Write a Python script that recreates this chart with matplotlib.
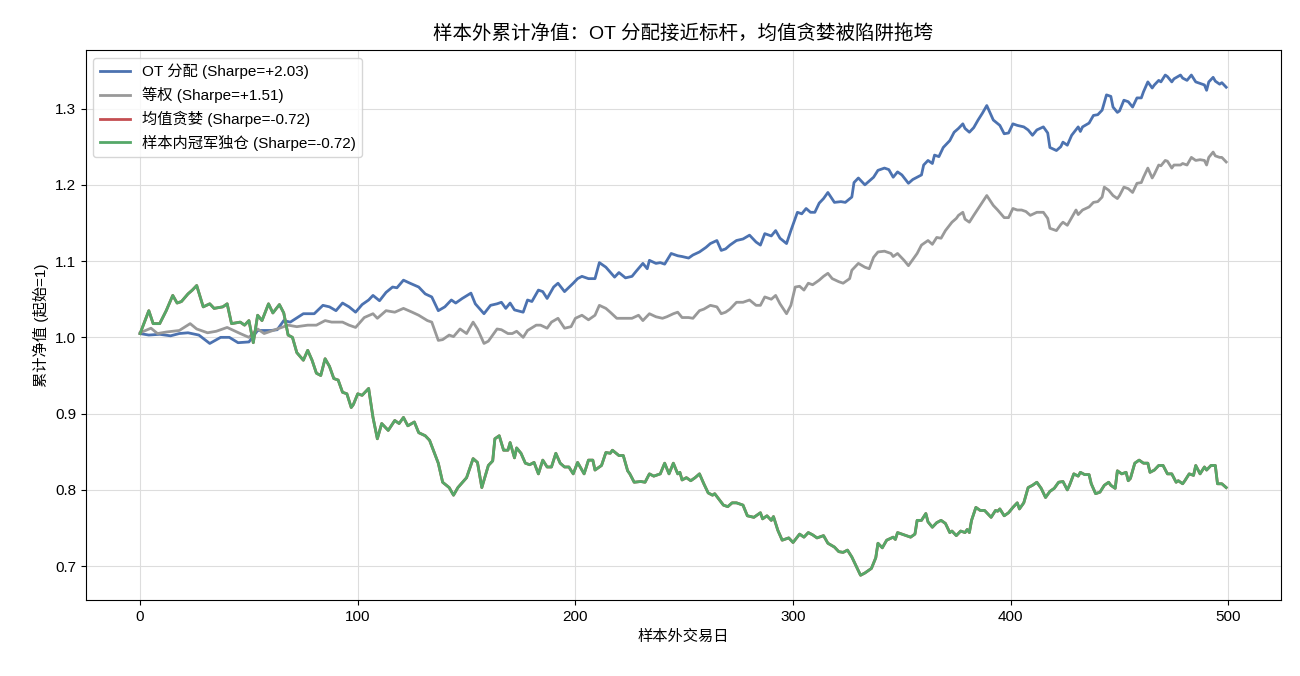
import matplotlib
matplotlib.use("Agg")
import matplotlib.pyplot as plt

plt.rcParams["font.family"] = ["Liberation Sans", "Noto Sans CJK SC", "DejaVu Sans"]
plt.rcParams["axes.unicode_minus"] = False

# values (trading day -> cumulative NAV)
ot_days = [0, 4, 9, 14, 18, 22, 27, 32, 37, 41, 45, 50, 54, 60, 63, 66, 69, 75, 80, 84,
           87, 90, 93, 96, 99, 102, 105, 107, 110, 113, 116, 118, 121, 124, 128, 131, 134, 137, 140, 143,
           145, 148, 152, 154, 158, 161, 164, 166, 168, 170, 172, 176, 178, 180, 183, 185, 187, 190, 192, 195,
           199, 201, 203, 206, 209, 211, 214, 218, 220, 223, 226, 228, 231, 233, 234, 237, 239, 241, 244, 247,
           249, 252, 254, 257, 260, 262, 265, 267, 269, 271, 274, 277, 280, 283, 285, 287, 290, 292, 294, 297,
           299, 302, 304, 306, 308, 310, 312, 314, 316, 319, 322, 324, 327, 328, 330, 333, 335, 337, 339, 342,
           344, 346, 348, 350, 353, 355, 357, 359, 360, 362, 364, 365, 367, 369, 372, 374, 376, 378, 379, 381,
           383, 385, 387, 389, 392, 395, 397, 399, 401, 403, 406, 408, 410, 412, 415, 417, 418, 421, 423, 424,
           426, 428, 431, 432, 433, 436, 438, 440, 442, 444, 446, 447, 449, 450, 452, 454, 456, 458, 460, 461,
           463, 465, 466, 468, 469, 471, 472, 474, 475, 478, 479, 481, 483, 485, 487, 489, 490, 491, 493, 494,
           496, 497, 499]
ot_nav = [1.005, 1.003, 1.004, 1.002, 1.005, 1.006, 1.003, 0.992, 1.000, 1.000, 0.993, 0.994, 1.009, 1.009, 1.010, 1.022, 1.020, 1.031, 1.031, 1.042,
          1.040, 1.035, 1.045, 1.040, 1.033, 1.043, 1.049, 1.055, 1.048, 1.059, 1.066, 1.065, 1.075, 1.071, 1.066, 1.057, 1.053, 1.035, 1.040, 1.049,
          1.045, 1.051, 1.058, 1.044, 1.031, 1.042, 1.044, 1.046, 1.038, 1.045, 1.036, 1.033, 1.049, 1.047, 1.062, 1.060, 1.051, 1.066, 1.071, 1.060,
          1.071, 1.077, 1.080, 1.077, 1.077, 1.098, 1.092, 1.079, 1.085, 1.078, 1.080, 1.087, 1.097, 1.090, 1.101, 1.097, 1.098, 1.096, 1.110, 1.107,
          1.106, 1.104, 1.108, 1.112, 1.118, 1.123, 1.127, 1.114, 1.116, 1.121, 1.127, 1.129, 1.134, 1.125, 1.121, 1.136, 1.133, 1.140, 1.130, 1.123,
          1.140, 1.164, 1.162, 1.169, 1.164, 1.164, 1.176, 1.182, 1.190, 1.177, 1.178, 1.177, 1.184, 1.203, 1.209, 1.200, 1.205, 1.210, 1.219, 1.222,
          1.220, 1.210, 1.217, 1.213, 1.202, 1.207, 1.210, 1.213, 1.226, 1.232, 1.228, 1.239, 1.237, 1.249, 1.258, 1.269, 1.274, 1.280, 1.274, 1.269,
          1.275, 1.285, 1.294, 1.304, 1.285, 1.278, 1.267, 1.268, 1.280, 1.278, 1.276, 1.272, 1.265, 1.272, 1.276, 1.268, 1.249, 1.245, 1.250, 1.256,
          1.252, 1.265, 1.276, 1.270, 1.276, 1.281, 1.291, 1.292, 1.298, 1.318, 1.316, 1.302, 1.295, 1.297, 1.311, 1.309, 1.302, 1.314, 1.314, 1.322,
          1.335, 1.327, 1.331, 1.337, 1.335, 1.344, 1.342, 1.335, 1.339, 1.344, 1.340, 1.337, 1.344, 1.335, 1.333, 1.331, 1.324, 1.335, 1.341, 1.336,
          1.332, 1.334, 1.328]

eq_days = [0, 5, 8, 12, 18, 23, 26, 31, 35, 40, 46, 50, 54, 57, 60, 63, 68, 72, 77, 81,
           85, 88, 93, 96, 99, 103, 107, 109, 113, 117, 121, 125, 128, 132, 134, 137, 139, 142, 144, 147,
           150, 153, 155, 158, 160, 164, 166, 169, 171, 173, 176, 178, 182, 184, 187, 189, 192, 195, 198, 200,
           203, 206, 209, 211, 214, 216, 219, 222, 226, 229, 231, 234, 237, 240, 242, 245, 247, 249, 252, 254,
           257, 259, 262, 265, 267, 269, 271, 274, 277, 280, 283, 285, 287, 290, 292, 294, 297, 299, 301, 303,
           305, 307, 309, 312, 314, 316, 318, 321, 323, 326, 327, 330, 333, 335, 337, 339, 342, 345, 346, 348,
           351, 353, 355, 357, 359, 362, 364, 366, 368, 370, 373, 375, 376, 378, 379, 381, 383, 386, 389, 392,
           394, 397, 399, 401, 403, 405, 407, 409, 412, 415, 417, 418, 421, 423, 424, 426, 428, 430, 431, 433,
           436, 438, 440, 442, 443, 445, 447, 449, 450, 452, 454, 456, 458, 460, 461, 463, 465, 466, 468, 469,
           471, 472, 474, 475, 478, 479, 481, 483, 485, 487, 489, 490, 491, 493, 494, 496, 497, 499]
eq_nav = [1.006, 1.012, 1.005, 1.007, 1.009, 1.018, 1.011, 1.006, 1.008, 1.013, 1.005, 1.000, 1.011, 1.005, 1.008, 1.011, 1.016, 1.014, 1.016, 1.016,
          1.022, 1.020, 1.020, 1.016, 1.013, 1.026, 1.031, 1.025, 1.035, 1.033, 1.038, 1.033, 1.029, 1.022, 1.020, 0.996, 0.997, 1.003, 1.001, 1.011,
          1.005, 1.020, 1.011, 0.992, 0.995, 1.011, 1.010, 1.005, 1.005, 1.008, 1.000, 1.009, 1.016, 1.016, 1.012, 1.020, 1.025, 1.012, 1.014, 1.025,
          1.029, 1.023, 1.029, 1.042, 1.038, 1.033, 1.025, 1.025, 1.025, 1.029, 1.022, 1.031, 1.027, 1.025, 1.027, 1.031, 1.033, 1.026, 1.026, 1.025,
          1.035, 1.037, 1.042, 1.040, 1.031, 1.033, 1.037, 1.046, 1.046, 1.049, 1.042, 1.042, 1.053, 1.050, 1.055, 1.044, 1.031, 1.042, 1.066, 1.067,
          1.062, 1.071, 1.069, 1.075, 1.080, 1.084, 1.077, 1.073, 1.071, 1.077, 1.088, 1.097, 1.092, 1.090, 1.105, 1.112, 1.113, 1.110, 1.106, 1.110,
          1.101, 1.094, 1.102, 1.110, 1.121, 1.127, 1.122, 1.131, 1.130, 1.140, 1.151, 1.156, 1.160, 1.164, 1.155, 1.151, 1.160, 1.173, 1.186, 1.173,
          1.167, 1.157, 1.157, 1.169, 1.167, 1.167, 1.165, 1.160, 1.164, 1.164, 1.156, 1.143, 1.140, 1.148, 1.151, 1.147, 1.157, 1.167, 1.161, 1.167,
          1.171, 1.177, 1.178, 1.184, 1.197, 1.193, 1.186, 1.182, 1.186, 1.197, 1.195, 1.190, 1.202, 1.203, 1.210, 1.222, 1.209, 1.214, 1.226, 1.225,
          1.232, 1.231, 1.222, 1.226, 1.226, 1.228, 1.226, 1.236, 1.232, 1.233, 1.232, 1.226, 1.236, 1.243, 1.238, 1.236, 1.236, 1.230]

# in-sample champion; mean-greedy picks the same asset so the two paths coincide
champ_days = [0, 4, 6, 9, 12, 15, 17, 19, 22, 24, 26, 29, 32, 34, 38, 40, 42, 46, 48, 50,
              52, 54, 56, 59, 61, 64, 66, 68, 70, 72, 75, 77, 79, 81, 83, 85, 87, 89, 91, 93,
              95, 97, 98, 100, 102, 105, 107, 109, 111, 114, 117, 119, 121, 123, 126, 128, 131, 133, 137, 139,
              142, 144, 146, 150, 153, 155, 157, 160, 162, 163, 165, 167, 169, 170, 172, 173, 175, 177, 179, 181,
              183, 185, 187, 189, 191, 193, 195, 197, 199, 201, 204, 206, 208, 209, 212, 214, 216, 217, 220, 222,
              224, 225, 227, 230, 232, 234, 236, 239, 241, 243, 245, 247, 248, 249, 251, 253, 255, 257, 259, 261,
              263, 264, 268, 270, 272, 274, 277, 279, 282, 285, 286, 288, 290, 291, 293, 295, 298, 300, 303, 305,
              307, 309, 311, 314, 316, 319, 321, 323, 325, 327, 329, 331, 333, 336, 338, 339, 341, 343, 346, 347,
              348, 352, 354, 356, 357, 359, 361, 362, 364, 366, 368, 370, 372, 373, 375, 377, 379, 380, 381, 382,
              384, 386, 388, 389, 391, 393, 394, 395, 397, 399, 401, 403, 404, 406, 408, 410, 412, 414, 416, 418,
              420, 422, 424, 426, 427, 429, 431, 432, 434, 436, 437, 439, 441, 443, 445, 446, 448, 449, 451, 453,
              454, 455, 457, 459, 461, 463, 464, 466, 468, 470, 472, 474, 476, 477, 479, 480, 482, 484, 485, 487,
              489, 490, 492, 494, 495, 497, 499]
champ_nav = [1.005, 1.035, 1.018, 1.018, 1.035, 1.055, 1.045, 1.047, 1.057, 1.062, 1.068, 1.040, 1.044, 1.038, 1.040, 1.044, 1.018, 1.020, 1.016, 1.022,
             0.993, 1.029, 1.022, 1.044, 1.032, 1.043, 1.032, 1.003, 1.000, 0.980, 0.970, 0.983, 0.970, 0.953, 0.950, 0.972, 0.962, 0.946, 0.944, 0.928,
             0.926, 0.908, 0.912, 0.926, 0.924, 0.933, 0.895, 0.867, 0.887, 0.878, 0.891, 0.887, 0.895, 0.884, 0.889, 0.875, 0.871, 0.865, 0.835, 0.810,
             0.803, 0.793, 0.803, 0.816, 0.841, 0.836, 0.803, 0.832, 0.838, 0.867, 0.871, 0.852, 0.852, 0.862, 0.842, 0.855, 0.848, 0.835, 0.833, 0.836,
             0.821, 0.839, 0.830, 0.830, 0.848, 0.835, 0.830, 0.830, 0.821, 0.836, 0.821, 0.839, 0.839, 0.826, 0.832, 0.849, 0.848, 0.852, 0.845, 0.845,
             0.825, 0.821, 0.810, 0.811, 0.810, 0.821, 0.818, 0.821, 0.835, 0.821, 0.835, 0.821, 0.823, 0.813, 0.816, 0.812, 0.816, 0.821, 0.808, 0.796,
             0.793, 0.795, 0.780, 0.778, 0.783, 0.783, 0.780, 0.766, 0.764, 0.770, 0.762, 0.766, 0.760, 0.765, 0.747, 0.734, 0.737, 0.731, 0.742, 0.738,
             0.744, 0.741, 0.737, 0.740, 0.730, 0.725, 0.719, 0.718, 0.721, 0.712, 0.700, 0.688, 0.691, 0.697, 0.711, 0.730, 0.724, 0.734, 0.738, 0.735,
             0.744, 0.740, 0.738, 0.742, 0.760, 0.760, 0.769, 0.758, 0.751, 0.757, 0.760, 0.756, 0.744, 0.746, 0.740, 0.746, 0.744, 0.748, 0.744, 0.760,
             0.777, 0.773, 0.773, 0.770, 0.764, 0.773, 0.772, 0.775, 0.766, 0.770, 0.777, 0.783, 0.775, 0.783, 0.803, 0.806, 0.810, 0.802, 0.790, 0.798,
             0.802, 0.810, 0.811, 0.800, 0.806, 0.821, 0.818, 0.823, 0.820, 0.820, 0.808, 0.795, 0.797, 0.806, 0.810, 0.806, 0.802, 0.825, 0.821, 0.823,
             0.812, 0.815, 0.835, 0.839, 0.835, 0.835, 0.823, 0.826, 0.832, 0.832, 0.821, 0.821, 0.810, 0.812, 0.808, 0.812, 0.821, 0.819, 0.832, 0.821,
             0.830, 0.826, 0.832, 0.832, 0.808, 0.808, 0.803]

labels = ["OT 分配 (Sharpe=+2.03)", "等权 (Sharpe=+1.51)",
          "均值贪婪 (Sharpe=-0.72)", "样本内冠军独仓 (Sharpe=-0.72)"]
colors = ["#4C72B0", "#999999", "#C44E52", "#55A868"]

fig, ax = plt.subplots(figsize=(13, 6.76), dpi=100)
fig.subplots_adjust(left=0.066, right=0.985, top=0.926, bottom=0.112)

ax.plot(ot_days, ot_nav, color=colors[0], lw=2, label=labels[0])
ax.plot(eq_days, eq_nav, color=colors[1], lw=2, label=labels[1])
ax.plot(champ_days, champ_nav, color=colors[2], lw=2, label=labels[2])
ax.plot(champ_days, champ_nav, color=colors[3], lw=2, label=labels[3])

ax.grid(True, color="#dddddd", lw=0.8)
ax.set_axisbelow(True)
ax.tick_params(labelsize=11)
ax.set_title("样本外累计净值：OT 分配接近标杆，均值贪婪被陷阱拖垮", fontsize=14, pad=8)
ax.set_xlabel("样本外交易日", fontsize=11)
ax.set_ylabel("累计净值 (起始=1)", fontsize=11)
ax.legend(loc="upper left", fontsize=11)

fig.savefig("out.png")
